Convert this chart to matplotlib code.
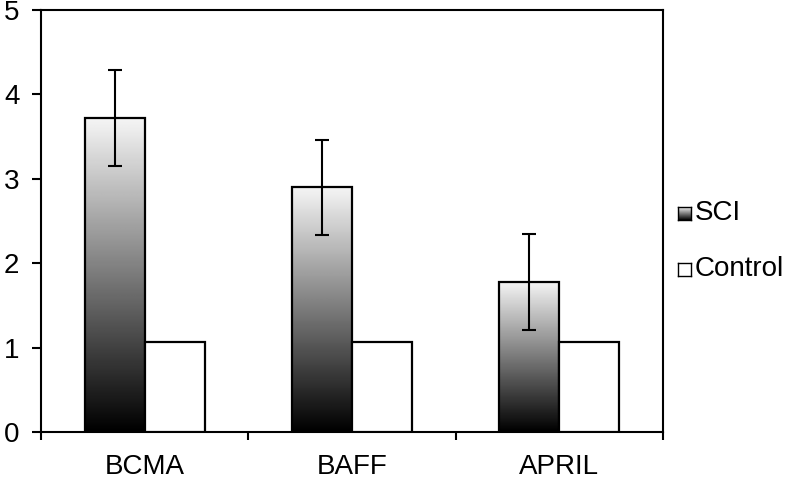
import numpy as np
import matplotlib
matplotlib.use("Agg")
import matplotlib.pyplot as plt
from matplotlib.patches import Rectangle

plt.rcParams['font.family'] = ['Liberation Sans', 'DejaVu Sans']

categories = ["BCMA", "BAFF", "APRIL"]
sci_values = [3.72, 2.90, 1.78]
sci_errors = [0.57, 0.56, 0.57]
control_values = [1.07, 1.07, 1.07]
series_names = ["SCI", "Control"]
y_ticks = [0, 1, 2, 3, 4, 5]

fig = plt.figure(figsize=(7.92, 4.79), dpi=100)
ax = fig.add_axes([41/792, 1-432/479, (663-41)/792, (432-10)/479])

x = np.arange(len(categories))
w = 0.29
grad = np.linspace(0, 0.96, 256).reshape(-1, 1)

for xi, v in zip(x, sci_values):
    x0 = xi - w
    ax.imshow(grad, cmap='gray', origin='lower', aspect='auto',
              extent=[x0, xi, 0, v], vmin=0, vmax=1, zorder=2)
    ax.add_patch(Rectangle((x0, 0), w, v, facecolor='none', edgecolor='black',
                           linewidth=1.6, zorder=3))

ax.bar(x + w/2, control_values, width=w, color='white', edgecolor='black',
       linewidth=1.6, zorder=3)
ax.errorbar(x - w/2, sci_values, yerr=sci_errors, fmt='none', ecolor='black',
            elinewidth=1.5, capsize=5, capthick=1.5, zorder=4)

ax.set_xlim(-0.5, 2.5)
ax.set_ylim(0, 5)
ax.set_yticks(y_ticks)
ax.set_xticks(x)
ax.set_xticklabels(categories, fontsize=20)
ax.set_xticks(np.arange(-0.5, 3.0, 1.0), minor=True)
ax.tick_params(axis='x', which='major', length=0, pad=16)
ax.tick_params(axis='x', which='minor', length=6, width=1.5, direction='out')
ax.tick_params(axis='y', length=6.5, width=1.5, direction='out', labelsize=20, pad=9)
for s in ax.spines.values():
    s.set_linewidth(1.5)

# legend (manual)
sw = fig.add_axes([678/792, 1-220/479, 13/792, 13/479])
sw.imshow(grad, cmap='gray', origin='lower', aspect='auto', vmin=0, vmax=1,
          extent=[0, 1, 0, 1])
sw.set_xlim(0, 1); sw.set_ylim(0, 1)
sw.set_xticks([]); sw.set_yticks([])
for s in sw.spines.values():
    s.set_linewidth(1.0)
sw2 = fig.add_axes([678/792, 1-276/479, 13/792, 13/479])
sw2.set_xticks([]); sw2.set_yticks([])
for s in sw2.spines.values():
    s.set_linewidth(1.0)
fig.text(695/792, 1-213/479, series_names[0], fontsize=20, va='center', ha='left')
fig.text(695/792, 1-269/479, series_names[1], fontsize=20, va='center', ha='left')

fig.savefig("out.png", dpi=100)
